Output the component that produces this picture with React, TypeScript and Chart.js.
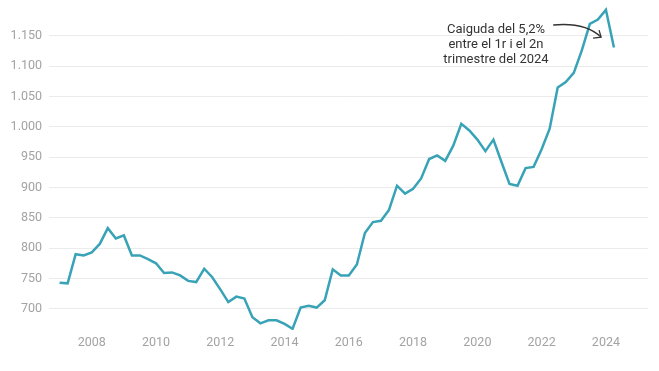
import React, { useEffect, useRef } from "react";
import { Chart, registerables } from "chart.js";

Chart.register(...registerables);

const startYear = 2007;
const quarterValues: number[] = [
  743, 742, 790, 788,
  793, 807, 833, 816,
  821, 788, 788, 782,
  775, 759, 760, 755,
  746, 744, 766, 752,
  732, 711, 720, 717,
  686, 676, 681, 681,
  675, 667, 702, 705,
  702, 714, 765, 755,
  755, 773, 825, 843,
  845, 863, 903, 890,
  898, 915, 947, 953,
  944, 969, 1005, 994,
  979, 960, 979, 942,
  906, 903, 932, 934,
  963, 997, 1065, 1074,
  1089, 1126, 1170, 1177,
  1193, 1131,
];
const xTickYears = [2008, 2010, 2012, 2014, 2016, 2018, 2020, 2022, 2024];
const yTickValues = [700, 750, 800, 850, 900, 950, 1000, 1050, 1100, 1150];
const annotationLines = ["Caiguda del 5,2%", "entre el 1r i el 2n", "trimestre del 2024"];

const fmt = (v: number) => String(v).replace(/\B(?=(\d{3})+(?!\d))/g, ".");

const annotationPlugin = {
  id: "annot",
  afterDatasetsDraw(chart: any) {
    const { ctx, scales } = chart;
    const xs = scales.x;
    const ys = scales.y;
    ctx.save();
    ctx.fillStyle = "#333333";
    ctx.font = "13px Roboto";
    ctx.textAlign = "center";
    ctx.textBaseline = "middle";
    const tx = xs.getPixelForValue(2020.58);
    const ty = ys.getPixelForValue(1160);
    annotationLines.forEach((l, i) => ctx.fillText(l, tx, ty + i * 15));
    // arrow
    const sx = xs.getPixelForValue(2022.36);
    const sy = ys.getPixelForValue(1168);
    const ex = xs.getPixelForValue(2023.85);
    const ey = ys.getPixelForValue(1148);
    ctx.strokeStyle = "#333333";
    ctx.lineWidth = 1.3;
    ctx.beginPath();
    ctx.moveTo(sx, sy);
    ctx.quadraticCurveTo(sx + 32, sy - 3, ex, ey);
    ctx.stroke();
    ctx.beginPath();
    ctx.moveTo(ex - 2, ey - 7);
    ctx.lineTo(ex, ey);
    ctx.lineTo(ex - 8, ey + 1);
    ctx.stroke();
    ctx.restore();
  },
};

export default function App() {
  const ref = useRef<HTMLCanvasElement | null>(null);
  useEffect(() => {
    if (!ref.current) return;
    const points = quarterValues.map((v, i) => ({ x: startYear + i / 4, y: v }));
    const chart = new Chart(ref.current, {
      type: "line",
      data: {
        datasets: [
          {
            data: points,
            borderColor: "#38a3b6",
            borderWidth: 2.5,
            pointRadius: 0,
            tension: 0,
            fill: false,
          },
        ],
      },
      options: {
        animation: false,
        responsive: false,
        maintainAspectRatio: false,
        layout: { padding: { left: 0, right: 11, top: 5, bottom: 0 } },
        plugins: { legend: { display: false }, tooltip: { enabled: false } },
        scales: {
          x: {
            type: "linear",
            min: 2006.67,
            max: 2025.31,
            grid: { display: false, drawTicks: false },
            border: { display: false },
            afterBuildTicks: (s: any) => {
              s.ticks = xTickYears.map((v) => ({ value: v }));
            },
            afterFit: (s: any) => {
              s.height = 41;
              s.paddingLeft = 0;
              s.paddingRight = 0;
            },
            ticks: {
              padding: 5,
              maxRotation: 0,
              autoSkip: false,
              color: "#a3a3a3",
              font: { family: "Roboto", size: 12.5 },
              callback: (v: any) => String(v),
            },
          },
          y: {
            min: 665,
            max: 1201,
            grid: { color: "#ebebeb", drawTicks: false, lineWidth: 1 },
            border: { display: false },
            afterBuildTicks: (s: any) => {
              s.ticks = yTickValues.map((v) => ({ value: v }));
            },
            afterFit: (s: any) => {
              s.width = 49;
              s.paddingTop = 0;
              s.paddingBottom = 0;
            },
            ticks: {
              padding: 7,
              color: "#a3a3a3",
              font: { family: "Roboto", size: 12.5 },
              callback: (v: any) => fmt(Number(v)),
            },
          },
        },
      },
      plugins: [annotationPlugin],
    });
    return () => chart.destroy();
  }, []);
  return (
    <div style={{ position: "fixed", left: 0, top: 0, width: 659, height: 371, background: "#fff" }}>
      <canvas ref={ref} width={659} height={371} style={{ display: "block" }} />
    </div>
  );
}
